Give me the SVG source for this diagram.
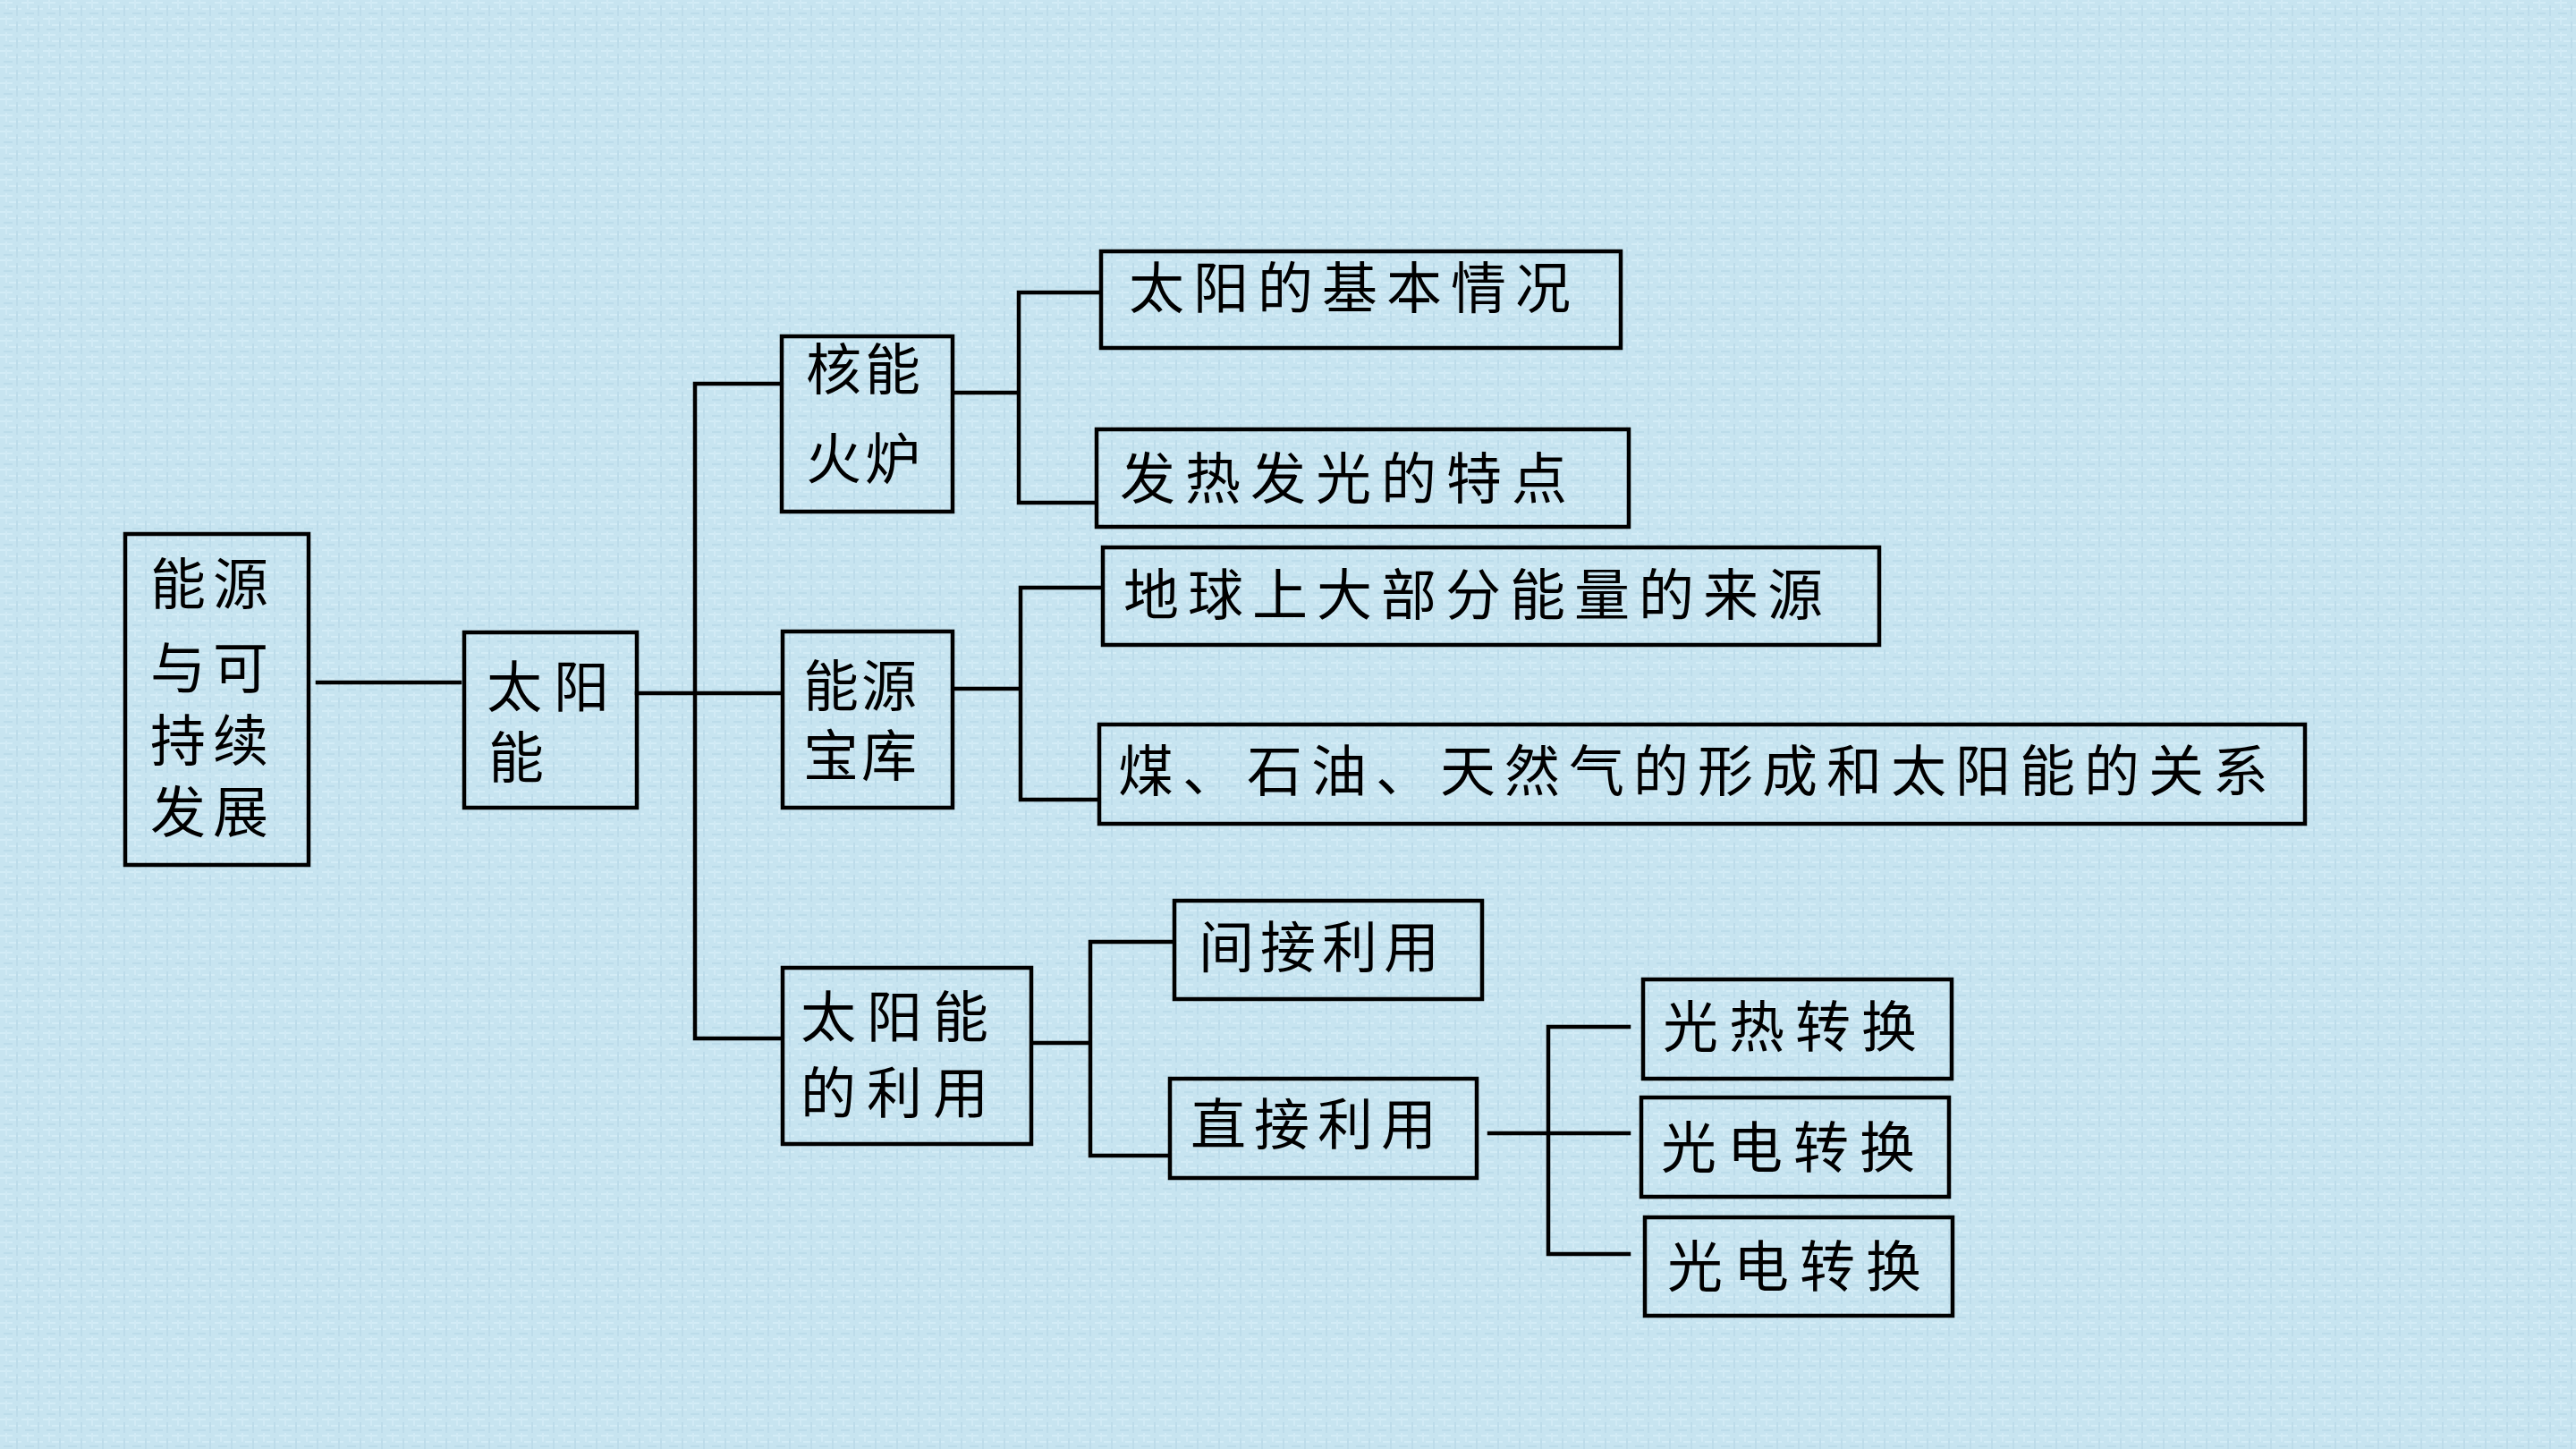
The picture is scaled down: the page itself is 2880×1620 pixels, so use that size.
<svg xmlns="http://www.w3.org/2000/svg" width="2880" height="1620" viewBox="0 0 2880 1620">
<style>
.box{fill:none;stroke:#000;stroke-width:4.5}
.ln{fill:none;stroke:#000;stroke-width:4.5;stroke-linecap:square}
text{font-family:"Noto Sans CJK SC","Noto Sans CJK TC",sans-serif;font-size:62px;fill:#000}
</style>
<defs>
<pattern id="tex" x="0" y="0" width="24" height="18" patternUnits="userSpaceOnUse">
<rect width="24" height="18" fill="#c7e4f0"/>
<rect x="0" y="2" width="14" height="2" fill="#d3ecf6"/>
<rect x="10" y="9" width="14" height="2" fill="#d3ecf6"/>
<rect x="4" y="14" width="10" height="2" fill="#bcdcea"/>
<rect x="6" y="0" width="2" height="10" fill="#d1eaf5"/>
<rect x="18" y="6" width="2" height="12" fill="#bddcea"/>
</pattern>
</defs>
<rect x="0" y="0" width="2880" height="1620" fill="url(#tex)"/>
<g id="connectors">
<path class="ln" d="M355 763H514"/>
<path class="ln" d="M712 775H777M777 429V1161M777 429H872M777 775H872M777 1161H872"/>
<path class="ln" d="M1067 439H1139M1139 327V562M1139 327H1229M1139 562H1225"/>
<path class="ln" d="M1067 770H1141M1141 657V894M1141 657H1231M1141 894H1227"/>
<path class="ln" d="M1155 1166H1219M1219 1053V1292M1219 1053H1311M1219 1292H1306"/>
<path class="ln" d="M1665 1267H1821M1731 1148V1402M1731 1148H1821M1731 1402H1821"/>
</g>
<g id="root"><rect class="box" x="140" y="597" width="205" height="370"/>
<text x="168" y="676" letter-spacing="8">能源</text>
<text x="168" y="770" letter-spacing="8">与可</text>
<text x="168" y="851" letter-spacing="8">持续</text>
<text x="168" y="931" letter-spacing="8">发展</text></g>
<g id="n-taiyangneng"><rect class="box" x="519" y="707" width="193" height="196"/>
<text x="544" y="791" letter-spacing="13">太阳</text>
<text x="546" y="870">能</text></g>
<g id="n-heneng"><rect class="box" x="874" y="376" width="191" height="196"/>
<text x="901" y="436" letter-spacing="4">核能</text>
<text x="901" y="536" letter-spacing="4">火炉</text></g>
<g id="n-baoku"><rect class="box" x="875" y="706" width="190" height="197"/>
<text x="898" y="790" letter-spacing="3">能源</text>
<text x="898" y="868" letter-spacing="3">宝库</text></g>
<g id="n-liyong"><rect class="box" x="875" y="1082" width="278" height="197"/>
<text x="895" y="1160" letter-spacing="12">太阳能</text>
<text x="895" y="1245" letter-spacing="12">的利用</text></g>
<g id="n-jiben"><rect class="box" x="1231" y="281" width="581" height="108"/>
<text x="1262" y="345" letter-spacing="10">太阳的基本情况</text></g>
<g id="n-fare"><rect class="box" x="1226" y="480" width="595" height="109"/>
<text x="1252" y="558" letter-spacing="11">发热发光的特点</text></g>
<g id="n-laiyuan"><rect class="box" x="1233" y="612" width="868" height="109"/>
<text x="1256" y="688" letter-spacing="10">地球上大部分能量的来源</text></g>
<g id="n-mei"><rect class="box" x="1229" y="810" width="1348" height="111"/>
<text x="1250" y="885" letter-spacing="10">煤、石油、天然气的形成和太阳能的关系</text></g>
<g id="n-jianjie"><rect class="box" x="1313" y="1007" width="344" height="110"/>
<text x="1340" y="1082" letter-spacing="7">间接利用</text></g>
<g id="n-zhijie"><rect class="box" x="1308" y="1206" width="343" height="111"/>
<text x="1331" y="1280" letter-spacing="9">直接利用</text></g>
<g id="n-guangre"><rect class="box" x="1837" y="1095" width="345" height="111"/>
<text x="1859" y="1171" letter-spacing="12">光热转换</text></g>
<g id="n-guangdian1"><rect class="box" x="1835" y="1227" width="344" height="111"/>
<text x="1857" y="1306" letter-spacing="12">光电转换</text></g>
<g id="n-guangdian2"><rect class="box" x="1839" y="1361" width="344" height="110"/>
<text x="1864" y="1439" letter-spacing="12">光电转换</text></g>
</svg>
